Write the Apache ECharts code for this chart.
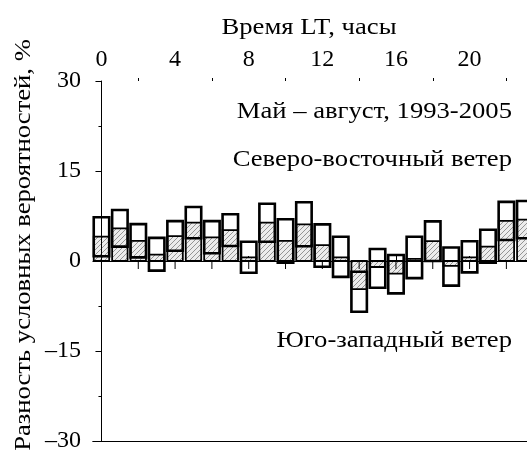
<!DOCTYPE html>
<html>
<head>
<meta charset="utf-8">
<script src="https://cdn.jsdelivr.net/npm/echarts@6/dist/echarts.min.js"></script>
<style>
  html, body { margin: 0; padding: 0; background: #fff; }
  #chart { width: 527px; height: 454px; }
</style>
</head>
<body>
<div id="chart"></div>
<script>
// часы местного времени
var hours = [0, 1, 2, 3, 4, 5, 6, 7, 8, 9, 10, 11, 12, 13, 14, 15, 16, 17, 18, 19, 20, 21, 22, 23];
// среднее значение (заштрихованный столбик от нуля)
var meanVal = [4.05, 5.45, 3.35, 1.05, 4.15, 6.4, 3.95, 5.15, 0.6, 6.4, 3.35, 6.1,
               2.65, 0.6, -4.7, -1.0, -2.1, 0.35, 3.3, -0.8, 0.6, 2.4, 6.7, 6.9];
// границы интервала (рамка)
var boxLow = [0.8, 2.4, 0.6, -1.6, 1.7, 3.8, 1.3, 2.5, -1.95, 3.2, -0.3, 2.45,
              -0.95, -2.65, -8.45, -4.45, -5.4, -2.85, 0.0, -4.1, -1.9, -0.3, 3.5, 3.8];
var boxHigh = [7.3, 8.5, 6.15, 3.85, 6.65, 9.0, 6.65, 7.8, 3.2, 9.55, 6.95, 9.8,
               6.1, 4.05, -1.8, 2.0, 1.0, 4.05, 6.6, 2.25, 3.3, 5.2, 9.85, 10.0];
var xTickLabels = [0, 4, 8, 12, 16, 20];
var xMinorTicks = [2, 6, 10, 14, 18, 22];
var zeroTicks = [0, 2, 4, 6, 8, 10, 12, 14, 16, 18, 20, 22];

var FONT = 'Liberation Serif';

// штриховка
function makeHatch() {
  var c = document.createElement('canvas');
  c.width = 5; c.height = 5;
  var g = c.getContext('2d');
  g.fillStyle = '#ececec';
  g.fillRect(0, 0, 5, 5);
  g.strokeStyle = '#8a8a8a';
  g.lineWidth = 0.9;
  g.beginPath();
  g.moveTo(0, 5); g.lineTo(5, 0);
  g.moveTo(-1, 1); g.lineTo(1, -1);
  g.moveTo(4, 6); g.lineTo(6, 4);
  g.stroke();
  return c;
}
var hatch = { image: makeHatch(), repeat: 'repeat' };

var data = hours.map(function (h, i) {
  return [h, meanVal[i], boxLow[i], boxHigh[i]];
});

// подписи растянуты по горизонтали, как в оригинале
function txt(s, x, y, align, rot) {
  return {
    type: 'text', x: x, y: y, rotation: rot || 0, scaleX: 1.11,
    style: { text: s, fontSize: 24, fontFamily: FONT, fill: '#000', align: align, verticalAlign: 'middle' }
  };
}

var myChart = echarts.init(document.getElementById('chart'));
myChart.setOption({
  animation: false,
  textStyle: { fontFamily: FONT },
  grid: { left: 93, right: 0, top: 81, bottom: 13 },
  xAxis: [
    {
      type: 'value', position: 'top', min: -0.46, max: 23.12,
      axisLine: { show: true, lineStyle: { color: '#000', width: 1 } },
      axisTick: { show: true, length: 5, customValues: xTickLabels, lineStyle: { color: '#000' } },
      axisLabel: { show: true, customValues: xTickLabels, margin: 9, color: '#000', fontSize: 24, fontFamily: FONT },
      splitLine: { show: false }
    },
    {
      type: 'value', position: 'top', min: -0.46, max: 23.12,
      axisLine: { show: false },
      axisTick: { show: true, length: 3, customValues: xMinorTicks, lineStyle: { color: '#000' } },
      axisLabel: { show: false },
      splitLine: { show: false }
    },
    {
      type: 'value', position: 'bottom', min: -0.46, max: 23.12,
      axisLine: { show: true, onZero: false, lineStyle: { color: '#000', width: 1 } },
      axisTick: { show: false },
      axisLabel: { show: false },
      splitLine: { show: false }
    },
    {
      // линия нуля
      type: 'value', position: 'bottom', min: -0.46, max: 23.12, z: 5,
      axisLine: { show: true, onZero: true, lineStyle: { color: '#000', width: 1 } },
      axisTick: { show: false },
      axisLabel: { show: false },
      splitLine: { show: false }
    }
  ],
  yAxis: {
    type: 'value', min: -30, max: 30, interval: 15, z: 5,
    axisLine: { show: true, lineStyle: { color: '#000', width: 1 } },
    axisTick: { show: true, length: 6, lineStyle: { color: '#000' } },
    minorTick: { show: true, splitNumber: 2, length: 3, lineStyle: { color: '#000' } },
    axisLabel: {
      margin: 12, color: '#000', fontSize: 24, fontFamily: FONT,
      formatter: function (v) { return v < 0 ? '\u2013' + (-v) : String(v); }
    },
    splitLine: { show: false }
  },
  graphic: [
    txt('Время LT, часы', 309, 28, 'center'),
    txt('Разность условных вероятностей, %', 24, 245, 'center', Math.PI / 2),
    txt('Май – август, 1993-2005', 512, 112, 'right'),
    txt('Северо-восточный ветер', 512, 160, 'right'),
    txt('Юго-западный ветер', 512, 341, 'right')
  ],
  series: [
    {
      type: 'custom',
      xAxisIndex: 0,
      encode: { x: 0, y: [1, 2, 3] },
      data: data,
      renderItem: function (params, api) {
        var x = api.value(0);
        var w = api.size([0.84, 0])[0];
        var pz = api.coord([x, 0]);
        var pm = api.coord([x, api.value(1)]);
        var pl = api.coord([x, api.value(2)]);
        var ph = api.coord([x, api.value(3)]);
        return {
          type: 'group',
          children: [
            {
              type: 'rect',
              shape: { x: pz[0] - w / 2, y: Math.min(pz[1], pm[1]), width: w, height: Math.abs(pz[1] - pm[1]) },
              style: { fill: hatch, stroke: '#000', lineWidth: 1.8 }
            },
            {
              type: 'rect',
              shape: { x: ph[0] - w / 2, y: ph[1], width: w, height: pl[1] - ph[1] },
              style: { fill: 'none', stroke: '#000', lineWidth: 2.6 }
            }
          ]
        };
      }
    },
    {
      // засечки на линии нуля
      type: 'custom',
      xAxisIndex: 0,
      z: 6,
      silent: true,
      encode: { x: 0, y: 1 },
      data: zeroTicks.map(function (t) { return [t, 0]; }),
      renderItem: function (params, api) {
        var p = api.coord([api.value(0), api.value(1)]);
        return {
          type: 'line',
          shape: { x1: p[0], y1: p[1], x2: p[0], y2: p[1] + 8 },
          style: { stroke: '#000', lineWidth: 1 }
        };
      }
    }
  ]
});
</script>
</body>
</html>
